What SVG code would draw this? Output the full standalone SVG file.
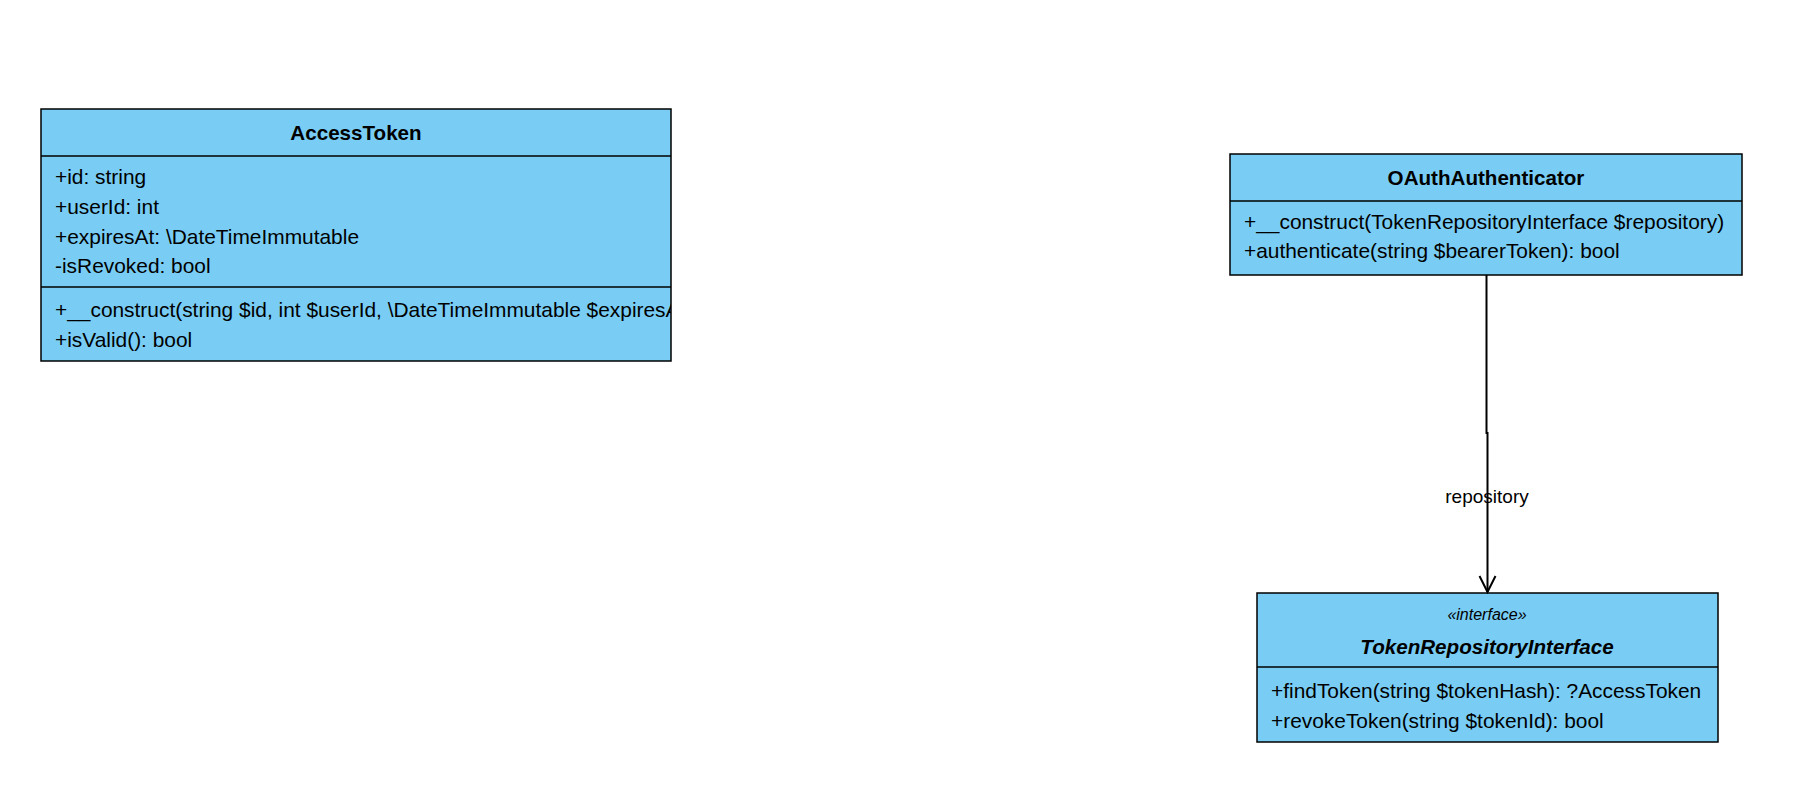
<svg xmlns="http://www.w3.org/2000/svg" width="1798" height="810" viewBox="0 0 1798 810">
<style>
.box{fill:#79cdf4;stroke:#000;stroke-width:1.5}
.ln{stroke:#000;stroke-width:1.5}
text{font-family:"Liberation Sans",Arial,sans-serif;font-size:20.9px;fill:#000}
.t{font-weight:bold;text-anchor:middle;font-size:20.6px}
.ti{font-weight:bold;font-style:italic;text-anchor:middle;font-size:20.6px}
.st{font-style:italic;text-anchor:middle;font-size:16px}
.lbl{text-anchor:middle;font-size:19px}
.edge{fill:none;stroke:#000;stroke-width:2}
</style>
<defs>
<clipPath id="clipAT"><rect x="41" y="109" width="630" height="252"/></clipPath>
<marker id="open" viewBox="0 0 20 20" refX="18" refY="10" markerWidth="20" markerHeight="20" markerUnits="userSpaceOnUse" orient="auto">
<path d="M2,2 L18,10 L2,18" fill="none" stroke="#000" stroke-width="2"/>
</marker>
</defs>
<rect width="1798" height="810" fill="#fff"/>
<g id="AccessToken">
<rect class="box" x="41" y="109" width="630" height="252"/>
<line class="ln" x1="41" y1="156" x2="671" y2="156"/>
<line class="ln" x1="41" y1="287" x2="671" y2="287"/>
<text class="t" x="356" y="140">AccessToken</text>
<g clip-path="url(#clipAT)">
<text x="55" y="184">+id: string</text>
<text x="55" y="214">+userId: int</text>
<text x="55" y="244">+expiresAt: \DateTimeImmutable</text>
<text x="55" y="273">-isRevoked: bool</text>
<text x="55" y="317">+__construct(string $id, int $userId, \DateTimeImmutable $expiresAt)</text>
<text x="55" y="347">+isValid(): bool</text>
</g>
</g>
<g id="OAuthAuthenticator">
<rect class="box" x="1230" y="154" width="512" height="121"/>
<line class="ln" x1="1230" y1="201" x2="1742" y2="201"/>
<text class="t" x="1486" y="185">OAuthAuthenticator</text>
<text x="1244" y="229">+__construct(TokenRepositoryInterface $repository)</text>
<text x="1244" y="258">+authenticate(string $bearerToken): bool</text>
</g>
<g id="TokenRepositoryInterface">
<rect class="box" x="1257" y="593" width="461" height="149"/>
<line class="ln" x1="1257" y1="667" x2="1718" y2="667"/>
<text class="st" x="1487" y="620">«interface»</text>
<text class="ti" x="1487" y="654">TokenRepositoryInterface</text>
<text x="1271" y="698">+findToken(string $tokenHash): ?AccessToken</text>
<text x="1271" y="728">+revokeToken(string $tokenId): bool</text>
</g>
<g id="connectors">
<path class="edge" d="M1486.5,275 L1486.5,433 L1487.5,433 L1487.5,592" marker-end="url(#open)"/>
<text class="lbl" x="1487" y="503">repository</text>
</g>
</svg>
